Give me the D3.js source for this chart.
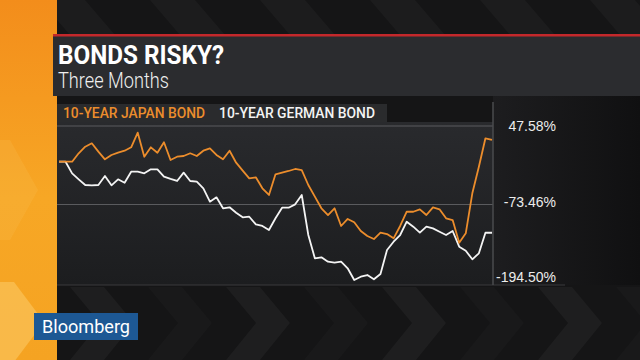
<!DOCTYPE html>
<html>
<head>
<meta charset="utf-8">
<script src="https://cdn.jsdelivr.net/npm/d3@7"></script>
<style>
  body { margin: 0; background: #161617; overflow: hidden; }
  svg { display: block; font-family: Roboto, "Liberation Sans", Arial, sans-serif; }
</style>
</head>
<body>
<div id="vis"></div>
<script>
// chart values (percent change)
const JAPAN_BOND = [
  -7.5, -7.5, -7.5, 5.5, 15.7, 20.9, 8.0, -3.8, 2.9, 6.4,
  9.5, 14.7, 37.3, 0.2, 14.7, 6.4, 22.5, -4.8, 0.2, 1.3,
  5.5, 1.3, 9.5, 13.2, 2.9, -3.8, 9.5, -9.0, -21.3, -33.1,
  -31.5, -48.5, -58.8, -26.9, -24.4, -21.8, -18.7, -20.3, -43.4, -61.4,
  -79.3, -89.7, -79.3, -106.6, -95.8, -100.9, -114.3, -122.0, -126.7, -116.9,
  -119.0, -125.6, -106.6, -84.6, -84.6, -80.9, -89.7, -77.8, -80.9, -94.7,
  -97.4, -132.4, -117.9, -56.2, -15.2, 28.6, 26.0
];
const GERMAN_BOND = [
  -7.5, -7.5, -25.4, -34.6, -43.4, -43.9, -43.4, -29.5, -43.9, -34.6,
  -39.9, -22.9, -22.9, -25.4, -19.2, -19.2, -30.6, -34.1, -37.2, -24.4,
  -37.2, -38.3, -48.5, -69.1, -62.4, -79.3, -77.8, -86.1, -93.2, -92.3,
  -104.0, -106.6, -112.8, -94.7, -78.4, -78.4, -73.2, -58.8, -120.5, -156.4,
  -154.9, -161.7, -163.2, -161.7, -171.8, -189.9, -184.8, -182.2, -188.8, -180.6,
  -143.6, -130.8, -120.5, -100.0, -107.7, -116.9, -107.7, -110.2, -115.4, -120.5,
  -114.3, -138.5, -144.7, -158.0, -148.7, -117.0, -117.0
];
const TICK_VALUES = [47.58, -73.46, -194.50];
const SERIES_NAMES = ["10-YEAR JAPAN BOND", "10-YEAR GERMAN BOND"];
const SERIES_COLORS = ["#ec8d2c", "#f4f4f4"];
const TITLE = "BONDS RISKY?";
const SUBTITLE = "Three Months";

const FRAME_WIDTH = 640;
const FRAME_HEIGHT = 360;
const PANEL = {left: 57, right: 493, top: 122, bottom: 285};

const svg = d3.select("#vis")
  .append("svg")
    .attr("width", FRAME_WIDTH)
    .attr("height", FRAME_HEIGHT);

const defs = svg.append("defs");

const orangeGrad = defs.append("linearGradient")
  .attr("id", "orange").attr("x1", 0).attr("y1", 0).attr("x2", 0).attr("y2", 1);
orangeGrad.append("stop").attr("offset", "0%").attr("stop-color", "#f38d1b");
orangeGrad.append("stop").attr("offset", "55%").attr("stop-color", "#f7a725");
orangeGrad.append("stop").attr("offset", "100%").attr("stop-color", "#f5a322");

const panelGrad = defs.append("linearGradient")
  .attr("id", "panel").attr("x1", 0).attr("y1", 0).attr("x2", 0).attr("y2", 1);
panelGrad.append("stop").attr("offset", "0%").attr("stop-color", "#292a2d");
panelGrad.append("stop").attr("offset", "100%").attr("stop-color", "#1c1d1f");

const rightGrad = defs.append("linearGradient")
  .attr("id", "rightbg").attr("x1", 0).attr("y1", 0).attr("x2", 1).attr("y2", 0);
rightGrad.append("stop").attr("offset", "0%").attr("stop-color", "#1d1d1f");
rightGrad.append("stop").attr("offset", "100%").attr("stop-color", "#101011");

// background
svg.append("rect")
  .attr("width", FRAME_WIDTH).attr("height", FRAME_HEIGHT)
  .attr("fill", "#151516");

svg.append("rect")
  .attr("x", PANEL.right).attr("y", 96)
  .attr("width", FRAME_WIDTH - PANEL.right).attr("height", PANEL.bottom - 96)
  .attr("fill", "url(#rightbg)");

// diagonal stripes at the top
svg.selectAll(".stripe")
  .data(d3.range(40, 700, 110))
  .enter()
  .append("polygon")
  .attr("points", d => `${d},0 ${d + 45},0 ${d + 75},35 ${d + 30},35`)
  .attr("fill", "#ffffff")
  .attr("opacity", 0.03);

// chevrons at the bottom
svg.selectAll(".chev")
  .data(d3.range(70, 680, 78))
  .enter()
  .append("polygon")
  .attr("points", d => `${d},287 ${d + 34},287 ${d + 64},323 ${d + 34},360 ${d},360 ${d + 30},323`)
  .attr("fill", "#ffffff")
  .attr("opacity", (d, i) => i % 2 ? 0.02 : 0.04);

// orange strip on the left
svg.append("rect")
  .attr("x", 0).attr("y", 0)
  .attr("width", PANEL.left).attr("height", FRAME_HEIGHT)
  .attr("fill", "url(#orange)");

svg.append("polygon")
  .attr("points", "0,282 14,282 44,322 14,362 0,362")
  .attr("fill", "#fbc862")
  .attr("opacity", 0.6);
svg.append("polygon")
  .attr("points", "0,140 10,140 38,190 10,240 0,240")
  .attr("fill", "#fbc35a")
  .attr("opacity", 0.2);

// title block
svg.append("rect")
  .attr("x", 53).attr("y", 35)
  .attr("width", FRAME_WIDTH - 53).attr("height", 61)
  .attr("fill", "#2b2c2f");
svg.append("rect")
  .attr("x", 53).attr("y", 34)
  .attr("width", FRAME_WIDTH - 53).attr("height", 2.5)
  .attr("fill", "#c4282b");

svg.append("text")
  .attr("x", 58).attr("y", 64)
  .attr("fill", "#ffffff")
  .attr("font-size", 26)
  .attr("font-weight", "bold")
  .attr("textLength", 166)
  .attr("lengthAdjust", "spacingAndGlyphs")
  .text(TITLE);

svg.append("text")
  .attr("x", 58).attr("y", 88)
  .attr("fill", "#f0f0f0")
  .attr("font-size", 22)
  .attr("font-weight", 300)
  .attr("textLength", 111)
  .attr("lengthAdjust", "spacingAndGlyphs")
  .text(SUBTITLE);

// legend strip
svg.append("rect")
  .attr("x", PANEL.left).attr("y", 104)
  .attr("width", 330).attr("height", 18)
  .attr("fill", "#2a2b2d");

const legendX = [63, 219];
const legendW = [142, 156];
svg.selectAll(".legend")
  .data(SERIES_NAMES)
  .enter()
  .append("text")
  .attr("x", (d, i) => legendX[i])
  .attr("y", 118)
  .attr("fill", (d, i) => SERIES_COLORS[i])
  .attr("font-size", 14)
  .attr("font-weight", 500)
  .attr("textLength", (d, i) => legendW[i])
  .attr("lengthAdjust", "spacingAndGlyphs")
  .text(d => d);

// chart panel
svg.append("rect")
  .attr("x", PANEL.left).attr("y", PANEL.top)
  .attr("width", PANEL.right - PANEL.left).attr("height", PANEL.bottom - PANEL.top)
  .attr("fill", "url(#panel)");

// scales
const xScale = d3.scaleLinear()
  .domain([0, JAPAN_BOND.length - 1])
  .range([59, 492]);

const yScale = d3.scaleLinear()
  .domain([-194.50, 47.58])
  .range([283, 126]);

// gridlines
svg.selectAll(".grid")
  .data(TICK_VALUES.slice(0, 2))
  .enter()
  .append("line")
  .attr("x1", PANEL.left).attr("x2", PANEL.right)
  .attr("y1", d => yScale(d)).attr("y2", d => yScale(d))
  .attr("stroke", "#5a5b5e")
  .attr("stroke-width", 1.2);

svg.append("line")
  .attr("x1", PANEL.left).attr("x2", 565)
  .attr("y1", PANEL.bottom).attr("y2", PANEL.bottom)
  .attr("stroke", "#3a3b3d");

// right axis
const yAxis = d3.axisRight(yScale)
  .tickValues(TICK_VALUES)
  .tickSize(0)
  .tickFormat(d => d.toFixed(2) + "%");

const axisG = svg.append("g")
  .attr("transform", `translate(${PANEL.right}, 0)`)
  .call(yAxis);

axisG.select(".domain")
  .attr("d", `M0,${PANEL.top - 20}V${PANEL.bottom}`)
  .attr("stroke", "#4a4b4e")
  .attr("stroke-width", 1.5);

const labelShift = [0, -2.5, -6];
axisG.selectAll(".tick text")
  .attr("x", 63)
  .attr("text-anchor", "end")
  .attr("fill", "#ececec")
  .attr("font-size", 14)
  .attr("font-family", "'Liberation Sans', Arial, sans-serif")
  .attr("transform", (d, i) => `translate(0, ${labelShift[i]})`);

// lines
const line = d3.line()
  .x((d, i) => xScale(i))
  .y(d => yScale(d));

svg.selectAll(".series")
  .data([GERMAN_BOND, JAPAN_BOND])
  .enter()
  .append("path")
  .attr("d", d => line(d))
  .attr("fill", "none")
  .attr("stroke", (d, i) => i === 0 ? SERIES_COLORS[1] : SERIES_COLORS[0])
  .attr("stroke-width", 1.8)
  .attr("stroke-linejoin", "round");

// logo
svg.append("rect")
  .attr("x", 34).attr("y", 313)
  .attr("width", 104).attr("height", 27)
  .attr("fill", "#1d5894");
svg.append("text")
  .attr("x", 86).attr("y", 333)
  .attr("text-anchor", "middle")
  .attr("fill", "#ffffff")
  .attr("font-size", 18)
  .attr("textLength", 88)
  .attr("lengthAdjust", "spacingAndGlyphs")
  .text("Bloomberg");
</script>
</body>
</html>
